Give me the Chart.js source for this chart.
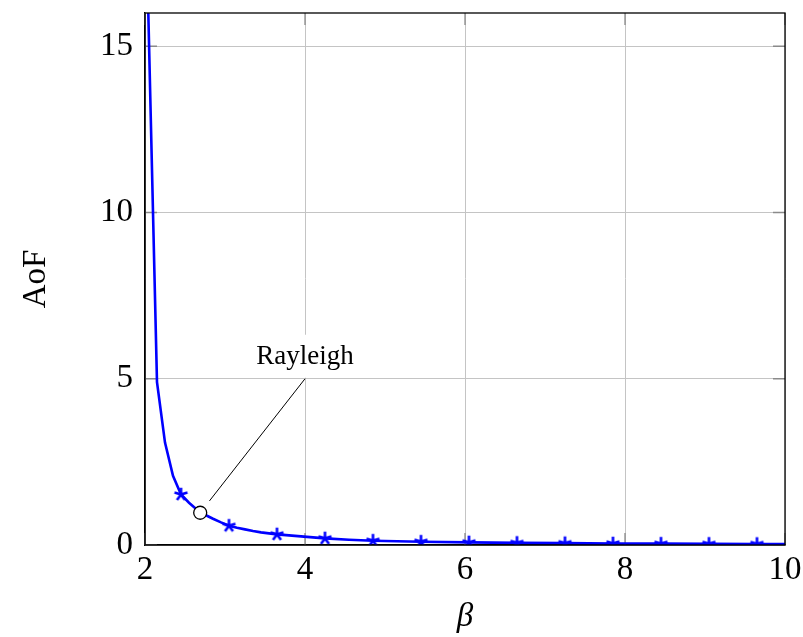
<!DOCTYPE html>
<html>
<head>
<meta charset="utf-8">
<script src="https://cdn.jsdelivr.net/npm/chart.js@4.4.1/dist/chart.umd.min.js"></script>
<style>
html, body { margin: 0; padding: 0; background: #fff; }
</style>
</head>
<body>
<canvas id="chartAoF" width="803" height="637"></canvas>
<script>
// Valores
const curveBeta = [2.01, 2.15, 2.25, 2.35, 2.45, 2.55, 2.65, 2.75, 2.85, 2.95, 3.05, 3.15, 3.25, 3.35, 3.45, 3.55, 3.65,
                   3.95, 4.25, 4.55, 4.85, 5.15, 5.45, 6.05, 6.65, 7.25, 7.85, 8.45, 9.05, 9.65, 10.05];
const curveAoF = [19.2, 4.9, 3.08, 2.08, 1.52, 1.27, 1.06, 0.91, 0.79, 0.68, 0.58, 0.52, 0.47, 0.42, 0.38, 0.35, 0.32,
                  0.26, 0.20, 0.16, 0.13, 0.115, 0.10, 0.08, 0.065, 0.055, 0.047, 0.041, 0.036, 0.032, 0.03];
const markBeta = [2.45, 3.05, 3.65, 4.25, 4.85, 5.45, 6.05, 6.65, 7.25, 7.85, 8.45, 9.05, 9.65];
const rayleighBeta = [2.69];
const rayleighAoF = [0.97];
const xTicks = [2, 4, 6, 8, 10];
const yTicks = [0, 5, 10, 15];

const serif = 'Liberation Serif';

// marcador estrela de 5 raios (estilo pgfplots)
function makeStar(color, r, lw) {
    const s = Math.ceil(2 * r + 2 * lw);
    const c = document.createElement('canvas');
    c.width = s; c.height = s;
    const g = c.getContext('2d');
    g.strokeStyle = color;
    g.lineWidth = lw;
    g.translate(s / 2, s / 2);
    g.beginPath();
    for (let k = 0; k < 5; k++) {
        const ang = -Math.PI / 2 + k * 2 * Math.PI / 5;
        g.moveTo(0, 0);
        g.lineTo(r * Math.cos(ang), r * Math.sin(ang));
    }
    g.stroke();
    return c;
}
const star = makeStar('#0000ff', 6.8, 2.6);

function noPadding(s) {
    s.paddingTop = 0; s.paddingBottom = 0; s.paddingLeft = 0; s.paddingRight = 0;
}

// ticks internos, moldura e anotação "Rayleigh"
const framePlugin = {
    id: 'frame',
    beforeDatasetsDraw(chart) {
        const { ctx, chartArea: a, scales: { x, y } } = chart;
        ctx.save();
        ctx.strokeStyle = '#8a8a8a';
        ctx.lineWidth = 1.3;
        ctx.beginPath();
        xTicks.forEach(v => {
            const px = x.getPixelForValue(v);
            ctx.moveTo(px, a.bottom); ctx.lineTo(px, a.bottom - 12);
            ctx.moveTo(px, a.top); ctx.lineTo(px, a.top + 12);
        });
        yTicks.forEach(v => {
            const py = y.getPixelForValue(v);
            ctx.moveTo(a.left, py); ctx.lineTo(a.left + 12, py);
            ctx.moveTo(a.right, py); ctx.lineTo(a.right - 12, py);
        });
        ctx.stroke();
        ctx.restore();
    },
    afterDatasetsDraw(chart) {
        const { ctx, chartArea: a, scales: { x, y } } = chart;
        ctx.save();
        ctx.strokeStyle = '#000';
        ctx.lineWidth = 1.3;
        ctx.strokeRect(a.left, a.top, a.width, a.height);

        const cx = x.getPixelForValue(rayleighBeta[0]);
        const cy = y.getPixelForValue(rayleighAoF[0]);
        const ax = x.getPixelForValue(4);
        const ay = y.getPixelForValue(5);
        const dx = ax - cx, dy = ay - cy;
        const len = Math.sqrt(dx * dx + dy * dy);
        ctx.lineWidth = 1;
        ctx.beginPath();
        ctx.moveTo(cx + dx / len * 15, cy + dy / len * 15);
        ctx.lineTo(ax, ay);
        ctx.stroke();

        ctx.font = '27px "' + serif + '"';
        const w = ctx.measureText('Rayleigh').width;
        ctx.fillStyle = '#fff';
        ctx.fillRect(ax - w / 2 - 8, ay - 44, w + 16, 43);
        ctx.fillStyle = '#000';
        ctx.textAlign = 'center';
        ctx.textBaseline = 'middle';
        ctx.fillText('Rayleigh', ax, ay - 22);
        ctx.restore();
    }
};

const ctxAoF = document.getElementById('chartAoF').getContext('2d');

new Chart(ctxAoF, {
    type: 'line',
    data: {
        datasets: [
            {
                label: 'Rayleigh',
                data: rayleighBeta.map((b, i) => ({ x: b, y: rayleighAoF[i] })),
                showLine: false,
                pointStyle: 'circle',
                pointRadius: 6.5,
                borderColor: '#000',
                borderWidth: 1.3,
                backgroundColor: '#fff'
            },
            {
                label: 'AoF',
                data: curveBeta.map((b, i) => ({ x: b, y: curveAoF[i] })),
                borderColor: '#0000ff',
                borderWidth: 2.6,
                tension: 0,
                fill: false,
                pointStyle: star,
                pointRadius: c => markBeta.includes(curveBeta[c.dataIndex]) ? 6 : 0
            }
        ]
    },
    options: {
        responsive: false,
        animation: false,
        layout: { padding: { top: 13, right: 18, left: 0, bottom: 0 } },
        plugins: { legend: { display: false }, tooltip: { enabled: false } },
        scales: {
            x: {
                type: 'linear',
                min: 2,
                max: 10,
                afterBuildTicks: s => { s.ticks = xTicks.map(v => ({ value: v })); },
                afterFit: s => { s.height = 92; noPadding(s); },
                grid: { color: '#c4c4c4', lineWidth: 1, drawTicks: false },
                border: { color: '#000', width: 1.3 },
                ticks: { font: { family: serif, size: 33 }, color: '#000', padding: 6, maxRotation: 0 },
                title: { display: true, text: 'β', color: '#000', font: { family: serif, size: 33, style: 'italic' }, padding: { top: 0, bottom: 0 } }
            },
            y: {
                type: 'linear',
                min: 0,
                max: 16,
                afterBuildTicks: s => { s.ticks = yTicks.map(v => ({ value: v })); },
                afterFit: s => { s.width = 145; noPadding(s); },
                grid: { color: '#c4c4c4', lineWidth: 1, drawTicks: false },
                border: { color: '#000', width: 1.3 },
                ticks: { font: { family: serif, size: 33 }, color: '#000', padding: 12 },
                title: { display: true, text: 'AoF', color: '#000', font: { family: serif, size: 33 }, padding: { top: 17, bottom: 0 } }
            }
        }
    },
    plugins: [framePlugin]
});
</script>
</body>
</html>
